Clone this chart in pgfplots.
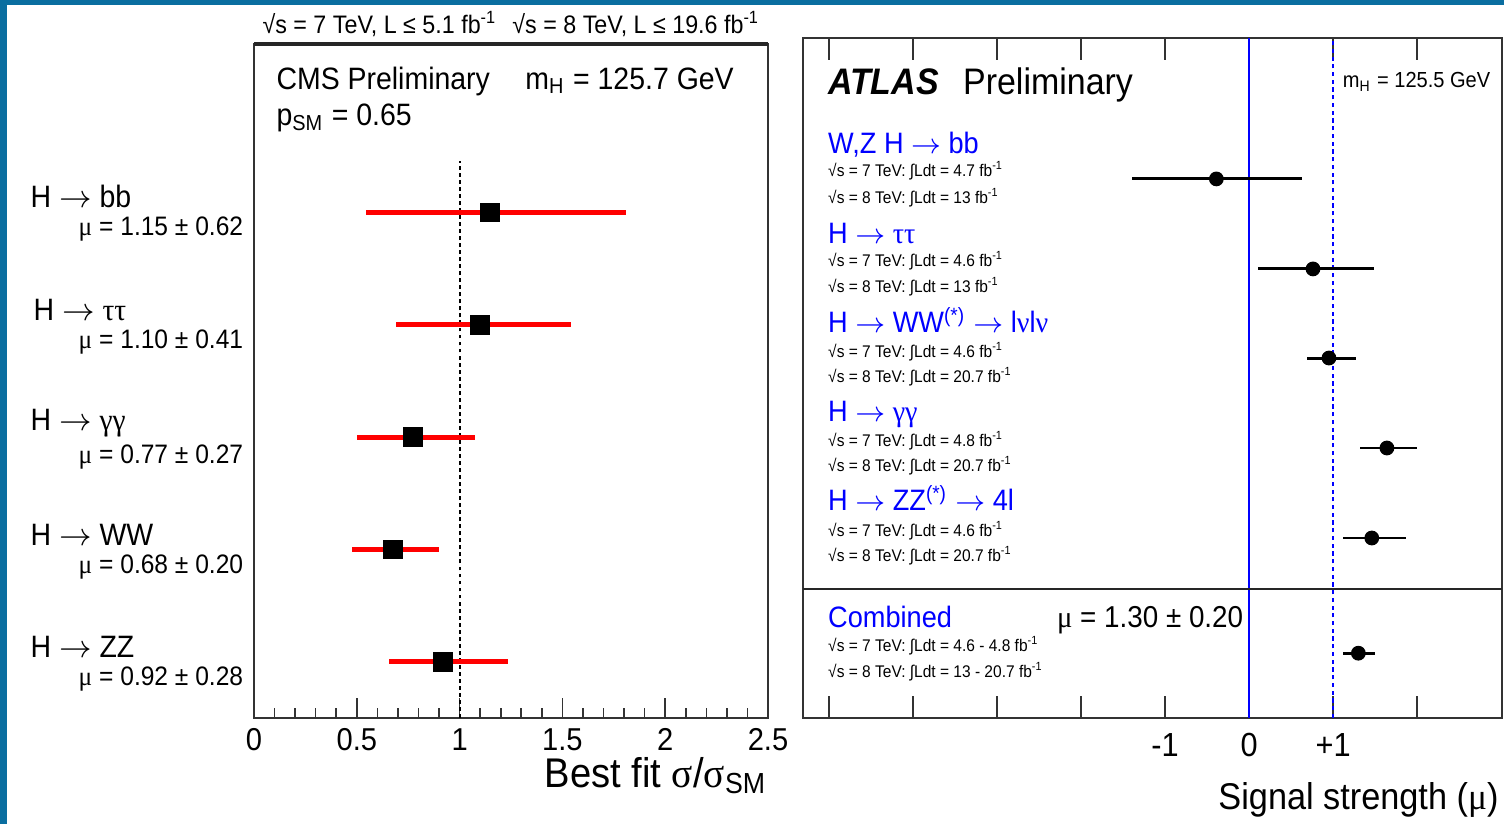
\documentclass[border=0pt]{standalone}
\usepackage{pgfplots}
\pgfplotsset{compat=1.18}
\usepackage{pgfplotstable}
\usepackage{fontspec}
\setmainfont{Liberation Sans}[FakeStretch=0.92]
\newfontfamily\gk{Liberation Serif}[FakeStretch=0.95]
\definecolor{border}{RGB}{10,110,160}
\definecolor{abl}{RGB}{0,0,255}
\definecolor{cred}{RGB}{255,0,0}
\newcommand{\fs}[1]{\fontsize{#1}{#1}\selectfont}
\newcommand{\ar}{\ $\rightarrow$\ }
\newcommand{\lum}[2]{√s = #1 TeV: ∫Ldt = #2 fb\textsuperscript{-1}}

\pgfplotstableread{
y x ep em
4.5 1.148 0.661 0.603
3.5 1.100 0.440 0.410
2.5 0.773 0.302 0.273
1.5 0.676 0.224 0.199
0.5 0.919 0.316 0.262
}\cmsdata

\pgfplotstableread{
y x ep em
5.99 -0.39 1.02 1.01
4.99 0.76 0.73 0.65
4.00 0.95 0.32 0.26
3.00 1.64 0.36 0.32
2.00 1.46 0.41 0.34
0.72 1.30 0.20 0.18
}\atlasdata

\begin{document}
\begin{tikzpicture}
\useasboundingbox (0,0) rectangle (15.04cm,-8.24cm);
\fill[white] (0,0) rectangle (15.04cm,-8.24cm);
\fill[border] (0,0) rectangle (15.04cm,-0.05cm);
\fill[border] (0,0) rectangle (0.07cm,-8.24cm);

% ---------------- CMS panel
\begin{axis}[
 at={(2.54cm,-7.18cm)}, anchor=south west, scale only axis,
 width=5.14cm, height=6.74cm,
 xmin=0, xmax=2.5, ymin=0, ymax=6,
 xtick={0,0.5,1,1.5,2,2.5}, xticklabels={0,0.5,1,1.5,2,2.5},
 minor x tick num=4, ytick=\empty,
 xtick pos=bottom, tick align=inside,
 major tick length=0.2cm, minor tick length=0.1cm,
 axis line style={line width=0.45pt, black!80},
 every tick/.style={black!80, line width=0.45pt},
 xticklabel style={font=\fs{9}, inner sep=0pt, text height=6.45pt, text depth=0pt, yshift=-0.09cm},
 /pgf/number format/assume math mode=true,
 clip=false,
]
\addplot[black, line width=0.55pt, dash pattern=on 1.1pt off 0.9pt] coordinates {(1,0) (1,4.96)};
\addplot[only marks, mark=square*, mark size=2.6pt, black,
  error bars/.cd, x dir=both, x explicit, error mark=none,
  error bar style={cred, line width=1.4pt}]
  table[x=x, y=y, x error plus=ep, x error minus=em] {\cmsdata};
\draw[line width=0.9pt, black!85] (rel axis cs:0,1) -- (rel axis cs:1,1);
\end{axis}

% ---------------- ATLAS panel
\begin{axis}[
 at={(8.03cm,-7.18cm)}, anchor=south west, scale only axis,
 width=6.99cm, height=6.80cm,
 xmin=-5.31, xmax=3.01, ymin=0, ymax=7.556,
 xtick={-5,-4,-3,-2,-1,0,1,2}, xticklabels={,,,,-1,0,+1,},
 ytick=\empty, xtick pos=both, xticklabel pos=lower, tick align=inside,
 major tick length=0.22cm,
 axis line style={line width=0.6pt, black!80},
 every tick/.style={black!80, line width=0.45pt},
 xticklabel style={font=\fs{9.5}, inner sep=0pt, text height=6.8pt, text depth=0pt, yshift=-0.14cm},
 /pgf/number format/assume math mode=true,
]
\addplot[abl, line width=0.45pt] coordinates {(0,0) (0,7.556)};
\addplot[abl, line width=0.45pt, dash pattern=on 1.2pt off 1pt] coordinates {(1,0) (1,7.556)};
\addplot[black!85, line width=0.5pt] coordinates {(-5.31,1.433) (3.01,1.433)};
\addplot[only marks, mark=*, mark size=1.9pt, black,
  error bars/.cd, x dir=both, x explicit, error mark=none,
  error bar style={black, line width=0.85pt}]
  table[x=x, y=y, x error plus=ep, x error minus=em] {\atlasdata};
\end{axis}

% ---------------- texts
\begin{scope}[x=0.01cm, y=-0.01cm, every node/.style={inner sep=0pt}]
\node[anchor=base west, font=\fs{7.2}] at (262,34) {√s = 7 TeV, L ≤ 5.1 fb\textsuperscript{-1}};
\node[anchor=base west, font=\fs{7.2}] at (512,34) {√s = 8 TeV, L ≤ 19.6 fb\textsuperscript{-1}};
\node[anchor=base west, font=\fs{8.8}] at (276,90) {CMS Preliminary};
\node[anchor=base west, font=\fs{8.8}] at (525,90) {m\textsubscript{H} = 125.7 GeV};
\node[anchor=base west, font=\fs{8.8}] at (276,126) {p\textsubscript{SM} = 0.65};

\node[anchor=base west, font=\fs{8.8}] at (30,208) {H\ar bb};
\node[anchor=base east, font=\fs{7.6}] at (244,236) {{\gk μ} = 1.15 ± 0.62};
\node[anchor=base west, font=\fs{8.8}] at (33,321) {H\ar{\gk ττ}};
\node[anchor=base east, font=\fs{7.6}] at (244,349) {{\gk μ} = 1.10 ± 0.41};
\node[anchor=base west, font=\fs{8.8}] at (30,431) {H\ar{\gk γγ}};
\node[anchor=base east, font=\fs{7.6}] at (244,464) {{\gk μ} = 0.77 ± 0.27};
\node[anchor=base west, font=\fs{8.8}] at (30,546) {H\ar WW};
\node[anchor=base east, font=\fs{7.6}] at (244,574) {{\gk μ} = 0.68 ± 0.20};
\node[anchor=base west, font=\fs{8.8}] at (30,658) {H\ar ZZ};
\node[anchor=base east, font=\fs{7.6}] at (244,686) {{\gk μ} = 0.92 ± 0.28};

\node[anchor=base east, font=\fs{11.8}] at (768,788) {Best fit {\gk σ}/{\gk σ}\textsubscript{SM}};

\node[anchor=base west, font=\fs{10.5}\bfseries\itshape] at (828,95) {ATLAS};
\node[anchor=base west, font=\fs{10.5}] at (963,95) {Preliminary};
\node[anchor=base west, font=\fs{6.2}] at (1343,88) {m\textsubscript{H} = 125.5 GeV};

\node[anchor=base west, font=\fs{8.4}, text=abl] at (828,154) {W,Z H\ar bb};
\node[anchor=base west, font=\fs{4.8}] at (828,177) {\lum{7}{4.7}};
\node[anchor=base west, font=\fs{4.8}] at (828,204) {\lum{8}{13}};
\node[anchor=base west, font=\fs{8.4}, text=abl] at (828,244) {H\ar{\gk ττ}};
\node[anchor=base west, font=\fs{4.8}] at (828,267) {\lum{7}{4.6}};
\node[anchor=base west, font=\fs{4.8}] at (828,293) {\lum{8}{13}};
\node[anchor=base west, font=\fs{8.4}, text=abl] at (828,333) {H\ar WW\textsuperscript{(*)}\ar l{\gk ν}l{\gk ν}};
\node[anchor=base west, font=\fs{4.8}] at (828,358) {\lum{7}{4.6}};
\node[anchor=base west, font=\fs{4.8}] at (828,383) {\lum{8}{20.7}};
\node[anchor=base west, font=\fs{8.4}, text=abl] at (828,422) {H\ar{\gk γγ}};
\node[anchor=base west, font=\fs{4.8}] at (828,447) {\lum{7}{4.8}};
\node[anchor=base west, font=\fs{4.8}] at (828,472) {\lum{8}{20.7}};
\node[anchor=base west, font=\fs{8.4}, text=abl] at (828,511) {H\ar ZZ\textsuperscript{(*)}\ar 4l};
\node[anchor=base west, font=\fs{4.8}] at (828,537) {\lum{7}{4.6}};
\node[anchor=base west, font=\fs{4.8}] at (828,562) {\lum{8}{20.7}};
\node[anchor=base west, font=\fs{8.4}, text=abl] at (828,628) {Combined};
\node[anchor=base west, font=\fs{8.6}] at (1057,628) {{\gk μ} = 1.30 ± 0.20};
\node[anchor=base west, font=\fs{4.8}] at (828,652) {\lum{7}{4.6 - 4.8}};
\node[anchor=base west, font=\fs{4.8}] at (828,678) {\lum{8}{13 - 20.7}};

\node[anchor=base east, font=\fs{10.6}] at (1500,810) {Signal strength ({\gk μ})};
\end{scope}
\end{tikzpicture}
\end{document}
